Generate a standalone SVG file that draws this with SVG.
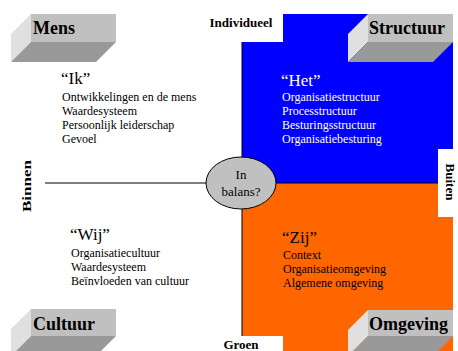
<svg xmlns="http://www.w3.org/2000/svg" width="458" height="351" viewBox="0 0 458 351">
<style>
.front{fill:#c0c0c0}
.side{fill:#e0e0e0}
.bot{fill:#999999}
.lbl{font-family:"Liberation Serif","Times New Roman",serif;font-weight:bold;font-size:18px;fill:#000}
.axis{font-family:"Liberation Serif","Times New Roman",serif;font-weight:bold;font-size:13px;fill:#000}
.head{font-family:"Liberation Serif","Times New Roman",serif;font-size:17px}
.body{font-family:"Liberation Serif","Times New Roman",serif;font-size:12px}
.bal{font-family:"Liberation Serif","Times New Roman",serif;font-size:13px}
.ln{stroke:#000;stroke-width:1;fill:none}
</style>
<rect width="458" height="351" fill="#fff"/>
<g id="quadrants">
<rect x="242" y="14" width="211" height="169" fill="#0000ff"/>
<rect x="242" y="183" width="211" height="168" fill="#ff6600"/>
</g>
<g id="connectors">
<line class="ln" x1="242" y1="14" x2="242" y2="351"/>
<line class="ln" x1="45" y1="183" x2="453" y2="183"/>
</g>
<g id="mens">
<polygon class="side" points="31,14 31,42 11,62 11,34"/>
<polygon class="bot" points="31,42 116,42 96,62 11,62"/>
<rect class="front" x="31" y="14" width="85" height="28"/>
<text class="lbl" x="33" y="34">Mens</text>
</g>
<g id="structuur">
<polygon class="side" points="368,14 368,42 348,62 348,34"/>
<polygon class="bot" points="368,42 453,42 433,62 348,62"/>
<rect class="front" x="368" y="14" width="85" height="28"/>
<text class="lbl" x="369" y="34">Structuur</text>
</g>
<g id="cultuur">
<polygon class="side" points="31,309 31,336 11,356 11,329"/>
<polygon class="bot" points="31,336 116,336 96,356 11,356"/>
<rect class="front" x="31" y="309" width="85" height="27"/>
<text class="lbl" x="33" y="330">Cultuur</text>
</g>
<g id="omgeving">
<polygon class="side" points="368,310 368,336 348,356 348,330"/>
<polygon class="bot" points="368,336 453,336 433,356 348,356"/>
<rect class="front" x="368" y="310" width="85" height="26"/>
<text class="lbl" x="369" y="330">Omgeving</text>
</g>
<g id="ik">
<text class="head" x="61" y="84">“Ik”</text>
<text class="body" x="62" y="101">Ontwikkelingen en de  mens</text>
<text class="body" x="62" y="115">Waardesysteem</text>
<text class="body" x="62" y="129">Persoonlijk leiderschap</text>
<text class="body" x="62" y="143">Gevoel</text>
</g>
<g id="het" fill="#fff">
<text class="head" x="281" y="86">“Het”</text>
<text class="body" x="282" y="101">Organisatiestructuur</text>
<text class="body" x="282" y="115">Processtructuur</text>
<text class="body" x="282" y="129">Besturingsstructuur</text>
<text class="body" x="282" y="143">Organisatiebesturing</text>
</g>
<g id="wij">
<text class="head" x="70" y="240">“Wij”</text>
<text class="body" x="71" y="257">Organisatiecultuur</text>
<text class="body" x="71" y="271">Waardesysteem</text>
<text class="body" x="71" y="285">Beïnvloeden van cultuur</text>
</g>
<g id="zij">
<text class="head" x="282" y="243">“Zij”</text>
<text class="body" x="283" y="259">Context</text>
<text class="body" x="283" y="273">Organisatieomgeving</text>
<text class="body" x="283" y="287">Algemene omgeving</text>
</g>
<g id="balans">
<ellipse cx="241" cy="183" rx="35" ry="26" fill="#c0c0c0" stroke="#000" stroke-width="1"/>
<text class="bal" x="241" y="179" text-anchor="middle">In</text>
<text class="bal" x="241" y="196" text-anchor="middle">balans?</text>
</g>
<g id="individueel">
<rect x="200" y="12" width="83" height="30" fill="#fff"/>
<text class="axis" x="241" y="27" text-anchor="middle">Individueel</text>
</g>
<g id="groen">
<rect x="220" y="336" width="63" height="15" fill="#fff"/>
<text class="axis" x="241" y="349" text-anchor="middle">Groen</text>
</g>
<g id="binnen">
<text class="axis" transform="translate(31,186) rotate(-90)" text-anchor="middle" textLength="52" lengthAdjust="spacingAndGlyphs">Binnen</text>
</g>
<g id="buiten">
<rect x="438" y="149" width="15" height="68" fill="#fff"/>
<text class="axis" transform="translate(446,182) rotate(90)" text-anchor="middle">Buiten</text>
</g>
</svg>
